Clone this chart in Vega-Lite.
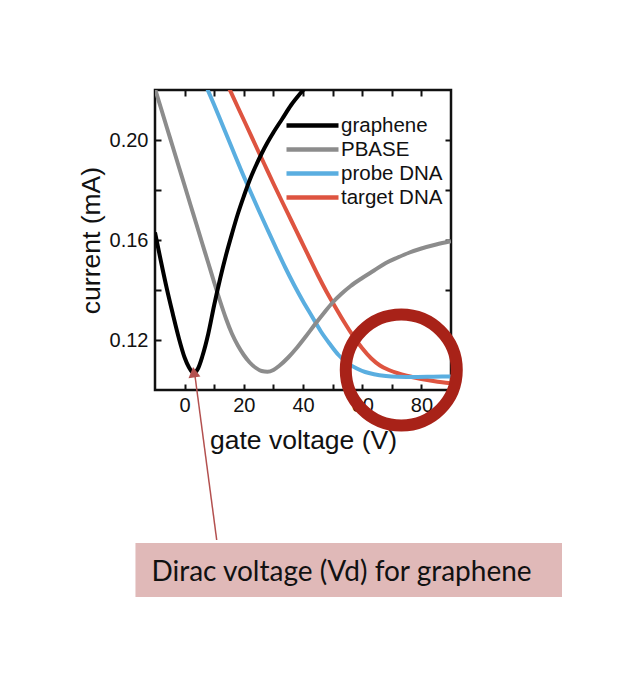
{
  "$schema": "https://vega.github.io/schema/vega-lite/v6.json",
  "width": 296,
  "height": 300,
  "autosize": {"type": "none"},
  "padding": {"left": 155, "top": 90, "right": 171, "bottom": 284},
  "background": "white",
  "config": {
    "view": {"stroke": "#111", "strokeWidth": 2.5},
    "axis": {
      "domain": false, "grid": false,
      "labelFont": "Liberation Sans", "titleFont": "Liberation Sans",
      "labelFontSize": 20, "titleFontSize": 26.5, "titleFontWeight": "normal",
      "labelColor": "#111", "titleColor": "#111", "tickColor": "#111",
      "tickWidth": 2, "tickSize": -6
    }
  },
  "datasets": {
    "curves": [
      {"series": "target DNA", "V": 15, "I": 0.2208},
      {"series": "target DNA", "V": 18, "I": 0.2131},
      {"series": "target DNA", "V": 21, "I": 0.2055},
      {"series": "target DNA", "V": 24, "I": 0.1978},
      {"series": "target DNA", "V": 27, "I": 0.1902},
      {"series": "target DNA", "V": 30, "I": 0.1826},
      {"series": "target DNA", "V": 33, "I": 0.1752},
      {"series": "target DNA", "V": 36, "I": 0.1679},
      {"series": "target DNA", "V": 39, "I": 0.1606},
      {"series": "target DNA", "V": 42, "I": 0.1533},
      {"series": "target DNA", "V": 45, "I": 0.1460},
      {"series": "target DNA", "V": 48, "I": 0.1392},
      {"series": "target DNA", "V": 51, "I": 0.1330},
      {"series": "target DNA", "V": 54, "I": 0.1270},
      {"series": "target DNA", "V": 57, "I": 0.1215},
      {"series": "target DNA", "V": 60, "I": 0.1167},
      {"series": "target DNA", "V": 63, "I": 0.1127},
      {"series": "target DNA", "V": 66, "I": 0.1098},
      {"series": "target DNA", "V": 69, "I": 0.1080},
      {"series": "target DNA", "V": 72, "I": 0.1067},
      {"series": "target DNA", "V": 75, "I": 0.1057},
      {"series": "target DNA", "V": 78, "I": 0.1049},
      {"series": "target DNA", "V": 81, "I": 0.1042},
      {"series": "target DNA", "V": 84, "I": 0.1036},
      {"series": "target DNA", "V": 87, "I": 0.1031},
      {"series": "target DNA", "V": 90, "I": 0.1027},
      {"series": "probe DNA", "V": 7, "I": 0.2223},
      {"series": "probe DNA", "V": 10, "I": 0.2140},
      {"series": "probe DNA", "V": 13, "I": 0.2054},
      {"series": "probe DNA", "V": 16, "I": 0.1968},
      {"series": "probe DNA", "V": 19, "I": 0.1882},
      {"series": "probe DNA", "V": 22, "I": 0.1800},
      {"series": "probe DNA", "V": 25, "I": 0.1720},
      {"series": "probe DNA", "V": 28, "I": 0.1642},
      {"series": "probe DNA", "V": 31, "I": 0.1565},
      {"series": "probe DNA", "V": 34, "I": 0.1490},
      {"series": "probe DNA", "V": 37, "I": 0.1420},
      {"series": "probe DNA", "V": 40, "I": 0.1355},
      {"series": "probe DNA", "V": 43, "I": 0.1295},
      {"series": "probe DNA", "V": 46, "I": 0.1235},
      {"series": "probe DNA", "V": 49, "I": 0.1185},
      {"series": "probe DNA", "V": 52, "I": 0.1140},
      {"series": "probe DNA", "V": 55, "I": 0.1108},
      {"series": "probe DNA", "V": 58, "I": 0.1087},
      {"series": "probe DNA", "V": 61, "I": 0.1072},
      {"series": "probe DNA", "V": 64, "I": 0.1063},
      {"series": "probe DNA", "V": 68, "I": 0.1056},
      {"series": "probe DNA", "V": 72, "I": 0.1053},
      {"series": "probe DNA", "V": 78, "I": 0.1052},
      {"series": "probe DNA", "V": 84, "I": 0.1053},
      {"series": "probe DNA", "V": 90, "I": 0.1054},
      {"series": "PBASE", "V": -10, "I": 0.2205},
      {"series": "PBASE", "V": -8, "I": 0.2128},
      {"series": "PBASE", "V": -6, "I": 0.2050},
      {"series": "PBASE", "V": -4, "I": 0.1973},
      {"series": "PBASE", "V": -2, "I": 0.1895},
      {"series": "PBASE", "V": 0, "I": 0.1818},
      {"series": "PBASE", "V": 2, "I": 0.1740},
      {"series": "PBASE", "V": 4, "I": 0.1663},
      {"series": "PBASE", "V": 6, "I": 0.1585},
      {"series": "PBASE", "V": 8, "I": 0.1508},
      {"series": "PBASE", "V": 10, "I": 0.1430},
      {"series": "PBASE", "V": 12, "I": 0.1355},
      {"series": "PBASE", "V": 14, "I": 0.1285},
      {"series": "PBASE", "V": 16, "I": 0.1225},
      {"series": "PBASE", "V": 18, "I": 0.1178},
      {"series": "PBASE", "V": 20, "I": 0.1140},
      {"series": "PBASE", "V": 22, "I": 0.1110},
      {"series": "PBASE", "V": 24, "I": 0.1089},
      {"series": "PBASE", "V": 26, "I": 0.1076},
      {"series": "PBASE", "V": 28, "I": 0.1073},
      {"series": "PBASE", "V": 30, "I": 0.1080},
      {"series": "PBASE", "V": 32, "I": 0.1097},
      {"series": "PBASE", "V": 35, "I": 0.1130},
      {"series": "PBASE", "V": 38, "I": 0.1170},
      {"series": "PBASE", "V": 41, "I": 0.1215},
      {"series": "PBASE", "V": 44, "I": 0.1262},
      {"series": "PBASE", "V": 47, "I": 0.1307},
      {"series": "PBASE", "V": 50, "I": 0.1350},
      {"series": "PBASE", "V": 53, "I": 0.1385},
      {"series": "PBASE", "V": 56, "I": 0.1415},
      {"series": "PBASE", "V": 60, "I": 0.1448},
      {"series": "PBASE", "V": 64, "I": 0.1478},
      {"series": "PBASE", "V": 68, "I": 0.1508},
      {"series": "PBASE", "V": 72, "I": 0.1530},
      {"series": "PBASE", "V": 76, "I": 0.1550},
      {"series": "PBASE", "V": 80, "I": 0.1566},
      {"series": "PBASE", "V": 85, "I": 0.1582},
      {"series": "PBASE", "V": 90, "I": 0.1595},
      {"series": "graphene", "V": -10, "I": 0.1630},
      {"series": "graphene", "V": -8, "I": 0.1515},
      {"series": "graphene", "V": -6, "I": 0.1405},
      {"series": "graphene", "V": -4, "I": 0.1305},
      {"series": "graphene", "V": -2, "I": 0.1210},
      {"series": "graphene", "V": 0, "I": 0.1130},
      {"series": "graphene", "V": 1.5, "I": 0.1090},
      {"series": "graphene", "V": 3, "I": 0.1068},
      {"series": "graphene", "V": 4.5, "I": 0.1085},
      {"series": "graphene", "V": 6, "I": 0.1135},
      {"series": "graphene", "V": 8, "I": 0.1225},
      {"series": "graphene", "V": 10, "I": 0.1340},
      {"series": "graphene", "V": 12, "I": 0.1445},
      {"series": "graphene", "V": 14, "I": 0.1540},
      {"series": "graphene", "V": 16, "I": 0.1625},
      {"series": "graphene", "V": 18, "I": 0.1705},
      {"series": "graphene", "V": 20, "I": 0.1775},
      {"series": "graphene", "V": 22, "I": 0.1840},
      {"series": "graphene", "V": 24, "I": 0.1895},
      {"series": "graphene", "V": 26, "I": 0.1945},
      {"series": "graphene", "V": 28, "I": 0.1990},
      {"series": "graphene", "V": 30, "I": 0.2030},
      {"series": "graphene", "V": 33, "I": 0.2085},
      {"series": "graphene", "V": 36, "I": 0.2140},
      {"series": "graphene", "V": 39, "I": 0.2185},
      {"series": "graphene", "V": 42, "I": 0.2225}
    ]
  },
  "resolve": {"axis": {"x": "independent", "y": "independent"}},
  "layer": [
    {
      "data": {"values": [{"V0": -16.6, "V1": 127.5, "I0": 0.0388, "I1": 0.0172}]},
      "mark": {"type": "rect", "fill": "#e0b9b8"},
      "encoding": {
        "x": {"field": "V0", "type": "quantitative", "axis": null},
        "x2": {"field": "V1"},
        "y": {"field": "I0", "type": "quantitative", "axis": null},
        "y2": {"field": "I1"}
      }
    },
    {
      "data": {"values": [{"V": -11.2, "I": 0.0236, "label": "Dirac voltage (Vd) for graphene"}]},
      "mark": {"type": "text", "align": "left", "baseline": "alphabetic", "font": "Lato", "fontSize": 28, "color": "#111"},
      "encoding": {
        "x": {"field": "V", "type": "quantitative", "axis": null},
        "y": {"field": "I", "type": "quantitative", "axis": null},
        "text": {"field": "label"}
      }
    },
    {
      "data": {"name": "curves"},
      "mark": {"type": "line", "strokeWidth": 4, "clip": true, "interpolate": "monotone"},
      "encoding": {
        "x": {
          "field": "V", "type": "quantitative",
          "scale": {"domain": [-10, 90], "nice": false, "zero": false},
          "axis": {
            "orient": "bottom", "title": "gate voltage (V)",
            "values": [0, 10, 20, 30, 40, 50, 60, 70, 80],
            "labelExpr": "datum.value % 20 == 0 ? datum.label : ''",
            "labelPadding": 11, "titlePadding": 12
          }
        },
        "y": {
          "field": "I", "type": "quantitative",
          "scale": {"domain": [0.1, 0.22], "nice": false, "zero": false},
          "axis": {
            "orient": "left", "title": "current (mA)", "format": ".2f",
            "values": [0.12, 0.14, 0.16, 0.18, 0.2],
            "labelExpr": "round(datum.value * 100) % 4 == 0 ? datum.label : ''",
            "labelPadding": 13, "titlePadding": 4
          }
        },
        "color": {
          "field": "series", "type": "nominal",
          "scale": {
            "domain": ["graphene", "PBASE", "probe DNA", "target DNA"],
            "range": ["#000000", "#8c8c8c", "#5aaee0", "#de5440"]
          },
          "legend": {
            "orient": "none", "legendX": 145, "legendY": 23, "title": null,
            "padding": 0, "symbolType": "M-2.6,0H2.6", "symbolSize": 400,
            "symbolStrokeWidth": 4.5, "labelOffset": 16, "rowPadding": 1,
            "labelFont": "Liberation Sans", "labelFontSize": 20.5, "labelColor": "#111"
          }
        }
      }
    },
    {
      "data": {"values": [{"V0": 10.85, "I0": 0.04, "V1": 3.56, "I1": 0.1052}]},
      "mark": {"type": "rule", "color": "#b3504f", "strokeWidth": 1.5},
      "encoding": {
        "x": {"field": "V0", "type": "quantitative", "axis": null},
        "x2": {"field": "V1"},
        "y": {"field": "I0", "type": "quantitative", "axis": null},
        "y2": {"field": "I1"}
      }
    },
    {
      "data": {"values": [{"V": 3.1, "I": 0.1071}]},
      "mark": {"type": "point", "shape": "triangle-up", "filled": true, "size": 144, "angle": -7.6, "color": "#b3504f", "opacity": 1},
      "encoding": {
        "x": {"field": "V", "type": "quantitative", "axis": null},
        "y": {"field": "I", "type": "quantitative", "axis": null}
      }
    },
    {
      "data": {"values": [{"V": 73.2, "I": 0.108}]},
      "mark": {"type": "point", "shape": "circle", "filled": false, "size": 12321, "stroke": "#a82218", "strokeWidth": 12, "opacity": 1},
      "encoding": {
        "x": {
          "field": "V", "type": "quantitative",
          "axis": {"orient": "top", "title": null, "labels": false, "values": [0, 10, 20, 30, 40, 50, 60, 70, 80]}
        },
        "y": {
          "field": "I", "type": "quantitative",
          "axis": {"orient": "right", "title": null, "labels": false, "values": [0.12, 0.14, 0.16, 0.18, 0.2]}
        }
      }
    }
  ]
}
